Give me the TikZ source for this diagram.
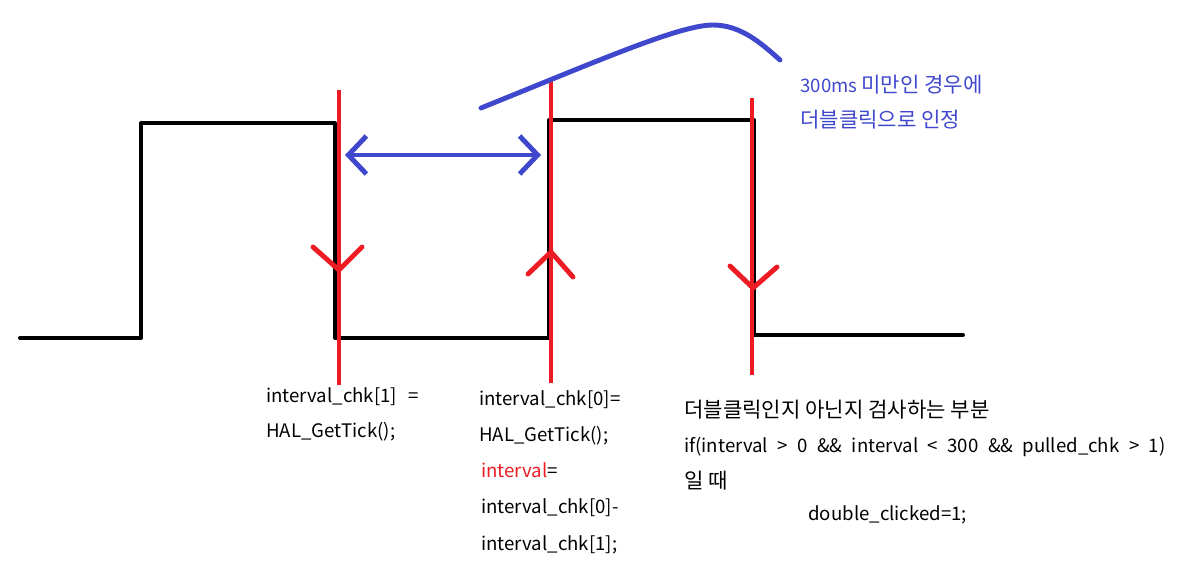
\documentclass[tikz,border=0pt]{standalone}
\usepackage{fontspec}
\setmainfont{Noto Sans CJK KR}
\usepackage{xcolor}
\usepackage{tikz}
\usetikzlibrary{arrows.meta}

\definecolor{edgeRed}{RGB}{237,28,36}
\definecolor{noteBlue}{RGB}{63,72,204}
\newcommand\ko[1]{{\fontsize{12pt}{14pt}\selectfont #1}}
\newcommand\wideop[1]{\hspace{3pt}#1\hspace{3pt}}

\begin{document}
\begin{tikzpicture}[x=0.02cm,y=-0.02cm,
signal/.style={line width=2.3pt,line join=round,line cap=round},
edgeLine/.style={draw=edgeRed,line width=2.8pt},
edgeTick/.style={draw=edgeRed,line width=2.8pt,line cap=round,line join=round},
note/.style={draw=noteBlue,line width=2.8pt,line cap=round},
code/.style={anchor=base west,inner sep=0pt,font=\fontsize{10.6pt}{14pt}\selectfont},
noteText/.style={code,text=noteBlue}]
\useasboundingbox (0,0) rectangle (1181,576);

% button signal
\draw[signal] (20,338) -- (141,338) -- (141,123) -- (335,123) -- (335,338)
  -- (549,338) -- (549,120) -- (754,120) -- (754,335) -- (963,335);

% edges
\coordinate (fallTop) at (339,90);
\coordinate (fallBot) at (339,385);
\coordinate (riseTop) at (551,80);
\coordinate (riseBot) at (551,383);
\coordinate (checkTop) at (752,98);
\coordinate (checkBot) at (752,375);

\draw[edgeLine] (fallTop) -- (fallBot);
\draw[edgeLine] (riseTop) -- (riseBot);
\draw[edgeLine] (checkTop) -- (checkBot);
\draw[edgeTick] (313,247) -- (339,270) -- (362,247);
\draw[edgeTick] (528,274) -- (551,252) -- (573,277);
\draw[edgeTick] (730,266) -- (753,288) -- (777,267);

% interval
\coordinate (gapL) at (345,155);
\coordinate (gapR) at (541,155);
\draw[note,{Straight Barb[length=3.6mm,width=7.6mm]}-{Straight Barb[length=3.6mm,width=7.6mm]}] (gapL) -- (gapR);

\coordinate (braceA) at (481,108);
\coordinate (braceTop) at (713,25);
\coordinate (braceB) at (780,60);
\draw[note] (braceA) .. controls (600,60) and (680,25) .. (braceTop)
  .. controls (740,25) and (760,42) .. (braceB);

\node[noteText] (note1) at (800,92) {300ms \ko{미만인 경우에}};
\node[noteText] (note2) at (800,127) {\ko{더블클릭으로 인정}};

% code
\node[code] (fall1) at (266,402) {interval\_chk[1]\hspace{4pt} =};
\node[code] (fall2) at (266,437) {HAL\_GetTick();};

\node[code] (rise1) at (479,405) {interval\_chk[0]=};
\node[code] (rise2) at (479,441) {HAL\_GetTick();};
\node[code] (rise3) at (481,477) {\textcolor{edgeRed}{interval}=};
\node[code] (rise4) at (481,513) {interval\_chk[0]-};
\node[code] (rise5) at (481,550) {interval\_chk[1];};

\node[code] (check1) at (684,417) {\ko{더블클릭인지 아닌지 검사하는 부분}};
\node[code] (check2) at (684,452) {if(interval \wideop{>} 0 \wideop{\&\&} interval \wideop{<} 300 \wideop{\&\&} pulled\_chk \wideop{>} 1)};
\node[code] (check3) at (684,488) {\ko{일 때}};
\node[code] (check4) at (808,520) {double\_clicked=1;};
\end{tikzpicture}
\end{document}
